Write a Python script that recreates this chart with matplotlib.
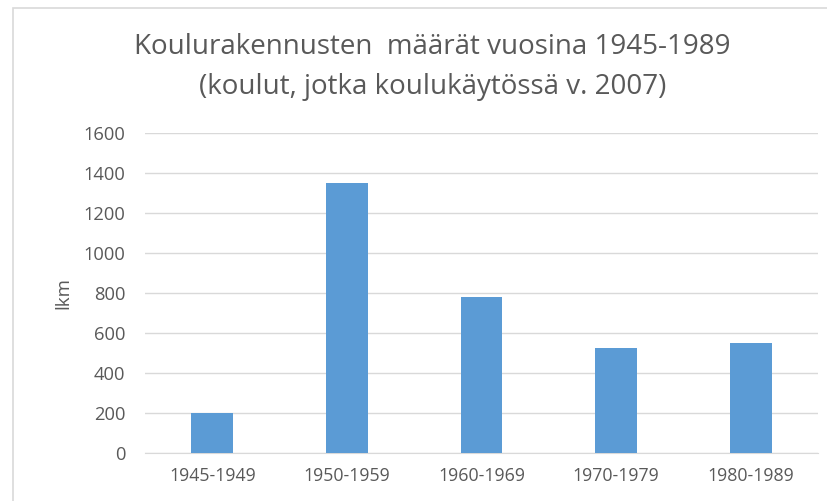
import matplotlib.pyplot as plt
from matplotlib.patches import Rectangle

periods = ['1945-1949', '1950-1959', '1960-1969', '1970-1979', '1980-1989']
counts = [200, 1350, 780, 525, 550]
yticks = [0, 200, 400, 600, 800, 1000, 1200, 1400, 1600]

plt.rcParams['font.family'] = ['Open Sans', 'DejaVu Sans']

fig = plt.figure(figsize=(8.27, 5.01), dpi=100)
fig.patch.set_facecolor('white')
# chart frame (left and top edges visible)
fig.add_artist(Rectangle((13 / 827, -0.1), 1.2, 1 - 8 / 501 + 0.1, transform=fig.transFigure,
                         fill=False, edgecolor='#d9d9d9', linewidth=1.2))

ax = fig.add_axes([145 / 827, 48 / 501, (818 - 145) / 827, (453 - 133) / 501])
ax.bar(range(len(periods)), counts, width=0.31, color='#5b9bd5', zorder=3)
ax.set_xlim(-0.5, len(periods) - 0.5)
ax.set_ylim(0, 1600)
ax.set_yticks(yticks)
ax.set_xticks(range(len(periods)))
ax.set_xticklabels(periods, fontsize=12.8)
ax.grid(axis='y', color='#d9d9d9', linewidth=1, zorder=0)
for s in ['top', 'right', 'left']:
    ax.spines[s].set_visible(False)
ax.spines['bottom'].set_color('#d9d9d9')
ax.tick_params(axis='both', length=0, labelsize=13.2, colors='#595959')
ax.tick_params(axis='x', labelsize=12.8, pad=10)
ax.tick_params(axis='y', pad=14)
ax.set_ylabel('lkm', fontsize=13.5, color='#595959', labelpad=8)

fig.text(0.523, 1 - 47 / 501, 'Koulurakennusten  määrät vuosina 1945-1989', ha='center', va='center',
         fontsize=20, color='#595959')
fig.text(0.523, 1 - 87 / 501, '(koulut, jotka koulukäytössä v. 2007)', ha='center', va='center',
         fontsize=20, color='#595959')

fig.savefig('out.png', dpi=100)
